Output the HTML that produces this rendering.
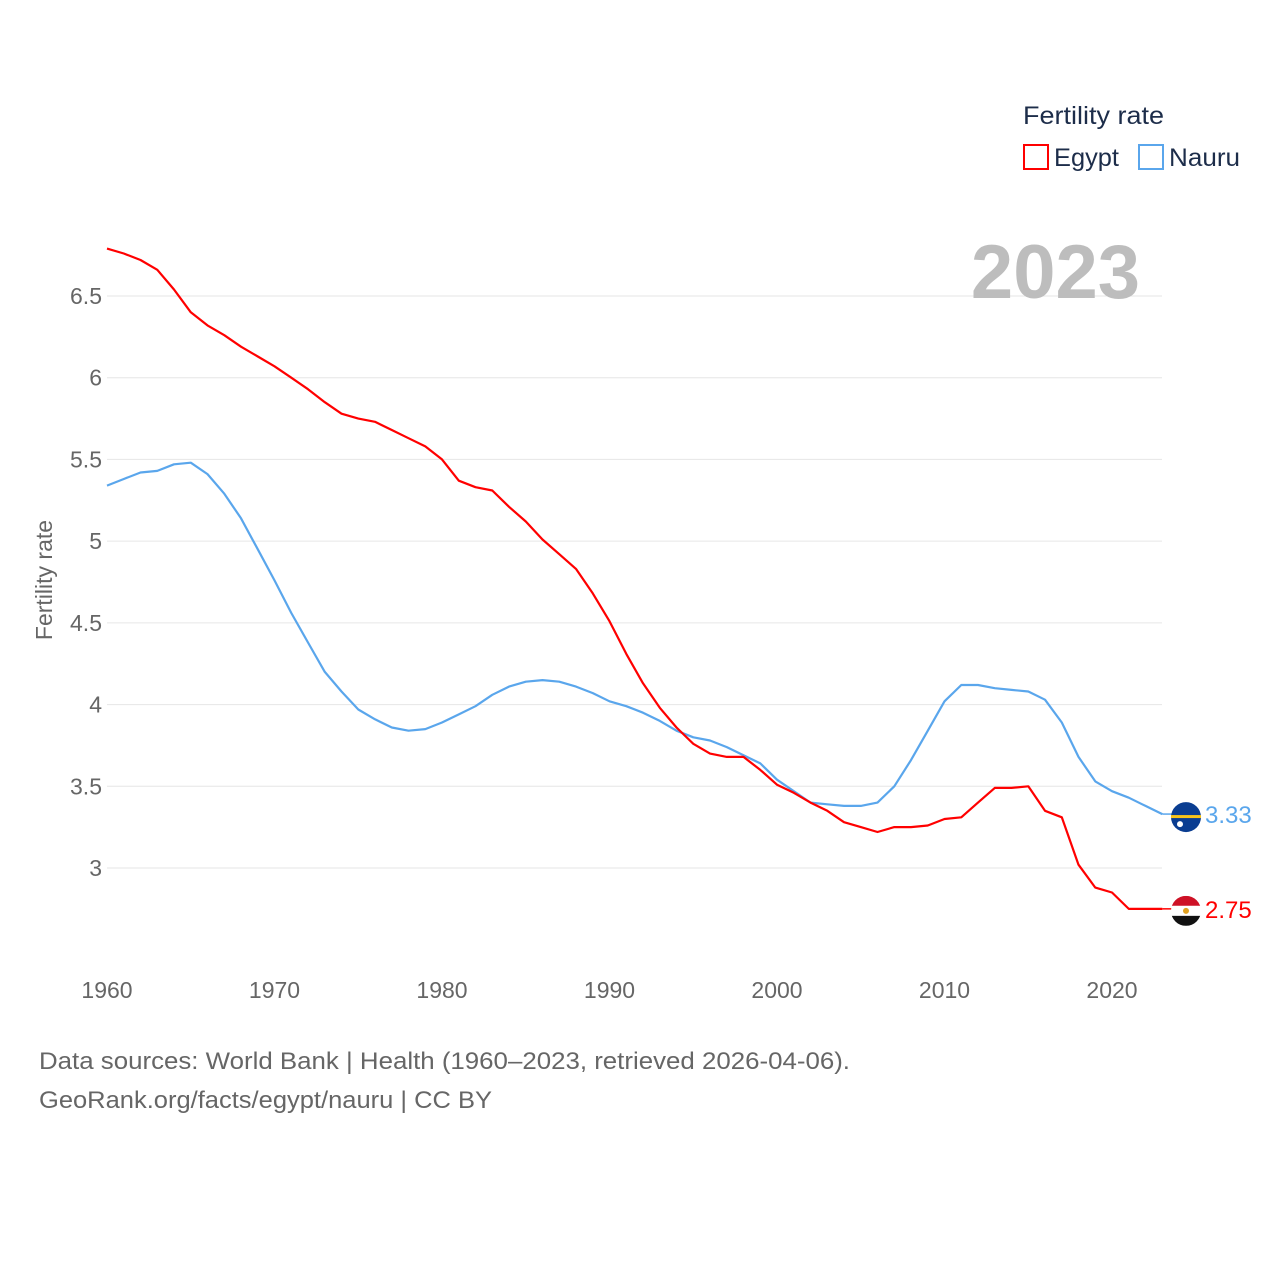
<!DOCTYPE html>
<html><head><meta charset="utf-8"><style>
body{margin:0;background:#fff;}
svg{display:block;font-family:"Liberation Sans",sans-serif;}
</style></head><body>
<svg id="chart" width="1280" height="1280" viewBox="0 0 1280 1280">
<g id="grid"></g>
<g id="yticks"></g>
<g id="xticks"></g>
<text x="52" y="580" transform="rotate(-90 52 580)" text-anchor="middle" font-size="23" fill="#666">Fertility rate</text>
<text x="1140" y="298" text-anchor="end" font-size="76" font-weight="bold" fill="#bdbdbd">2023</text>
<text x="1023" y="124" font-size="25" fill="#1d2d4a" textLength="141" lengthAdjust="spacingAndGlyphs">Fertility rate</text>
<g><rect x="1024" y="145" width="24" height="24" fill="none" stroke="#f00" stroke-width="2"/><text x="1054" y="166" font-size="25" fill="#1d2d4a" textLength="65" lengthAdjust="spacingAndGlyphs">Egypt</text></g>
<g><rect x="1139" y="145" width="24" height="24" fill="none" stroke="#5aa6ec" stroke-width="2"/><text x="1169" y="166" font-size="25" fill="#1d2d4a" textLength="71" lengthAdjust="spacingAndGlyphs">Nauru</text></g>
<g id="series"></g>
<text x="39" y="1069" font-size="24" fill="#666" textLength="811" lengthAdjust="spacingAndGlyphs">Data sources: World Bank | Health (1960–2023, retrieved 2026-04-06).</text>
<text x="39" y="1108" font-size="24" fill="#666" textLength="453" lengthAdjust="spacingAndGlyphs">GeoRank.org/facts/egypt/nauru | CC BY</text>
</svg>
<script>
const years=[];for(let y=1960;y<=2023;y++)years.push(y);
const egypt=[6.79,6.76,6.72,6.66,6.54,6.40,6.32,6.26,6.19,6.13,6.07,6.00,5.93,5.85,5.78,5.75,5.73,5.68,5.63,5.58,5.50,5.37,5.33,5.31,5.21,5.12,5.01,4.92,4.83,4.68,4.51,4.31,4.13,3.98,3.86,3.76,3.70,3.68,3.68,3.60,3.51,3.46,3.40,3.35,3.28,3.25,3.22,3.25,3.25,3.26,3.30,3.31,3.40,3.49,3.49,3.50,3.35,3.31,3.02,2.88,2.85,2.75,2.75,2.75];
const nauru=[5.34,5.38,5.42,5.43,5.47,5.48,5.41,5.29,5.14,4.95,4.76,4.56,4.38,4.20,4.08,3.97,3.91,3.86,3.84,3.85,3.89,3.94,3.99,4.06,4.11,4.14,4.15,4.14,4.11,4.07,4.02,3.99,3.95,3.90,3.84,3.80,3.78,3.74,3.69,3.64,3.54,3.47,3.40,3.39,3.38,3.38,3.40,3.50,3.66,3.84,4.02,4.12,4.12,4.10,4.09,4.08,4.03,3.89,3.68,3.53,3.47,3.43,3.38,3.33];
const yTicks=[3,3.5,4,4.5,5,5.5,6,6.5];
const xTicks=[1960,1970,1980,1990,2000,2010,2020];
const X=y=>107+(y-1960)*16.75;
const Y=v=>868-(v-3)*163.43;
const NS="http://www.w3.org/2000/svg";
function mk(tag,attrs,parent,text){const e=document.createElementNS(NS,tag);for(const k in attrs)e.setAttribute(k,attrs[k]);if(text!==undefined)e.textContent=text;parent.appendChild(e);return e;}
const grid=document.getElementById('grid'),yt=document.getElementById('yticks'),xt=document.getElementById('xticks'),ser=document.getElementById('series');
yTicks.forEach(v=>{
  const l=mk('line',{x1:107,x2:1162,y1:Y(v),y2:Y(v),stroke:'#e6e6e6','stroke-width':1},grid);
  
  
  const t=mk('text',{x:102,y:Y(v)+8,'text-anchor':'end','font-size':23,fill:'#666'},yt,String(v));
  
  
});
xTicks.forEach(v=>{
  const t=mk('text',{x:X(v),y:998,'text-anchor':'middle','font-size':23,fill:'#666'},xt,String(v));
  
  
});
function line(vals,color,name){
  const d=vals.map((v,i)=>(i?'L':'M')+X(years[i]).toFixed(1)+' '+Y(v).toFixed(1)).join(' ');
  const p=mk('path',{d:d,fill:'none',stroke:color,'stroke-width':2.2,'stroke-linejoin':'round'},ser);
  
  
  const last=vals[vals.length-1],ly=Y(last);
  const c=mk('line',{x1:X(2023),x2:1172,y1:ly,y2:ly,stroke:color,'stroke-width':1.5},ser);
  
  
  const t=mk('text',{x:1205,y:ly+9,'font-size':24,fill:color},ser,last.toFixed(2));
  
  
  return ly;
}
const ny=line(nauru,'#5aa6ec','nauru');
const ey=line(egypt,'#ff0000','egypt');
const fn=mk('g',{},ser);


mk('circle',{cx:1186,cy:ny+3,r:15,fill:'#0a3d91'},fn);
mk('rect',{x:1171,y:ny+1,width:30,height:3,fill:'#f7c31a'},fn);
mk('circle',{cx:1180,cy:ny+10,r:3,fill:'#fff'},fn);
const fe=mk('g',{},ser);


mk('clipPath',{id:'ec'},fe);
mk('circle',{cx:1186,cy:ey+2,r:15},document.getElementById('ec'));
const eg=mk('g',{'clip-path':'url(#ec)'},fe);
mk('rect',{x:1171,y:ey-13,width:30,height:10,fill:'#ce1126'},eg);
mk('rect',{x:1171,y:ey-3,width:30,height:10,fill:'#fff'},eg);
mk('rect',{x:1171,y:ey+7,width:30,height:10,fill:'#111'},eg);
mk('circle',{cx:1186,cy:ey+2,r:3,fill:'#e0a020'},eg);
</script>
</body></html>
